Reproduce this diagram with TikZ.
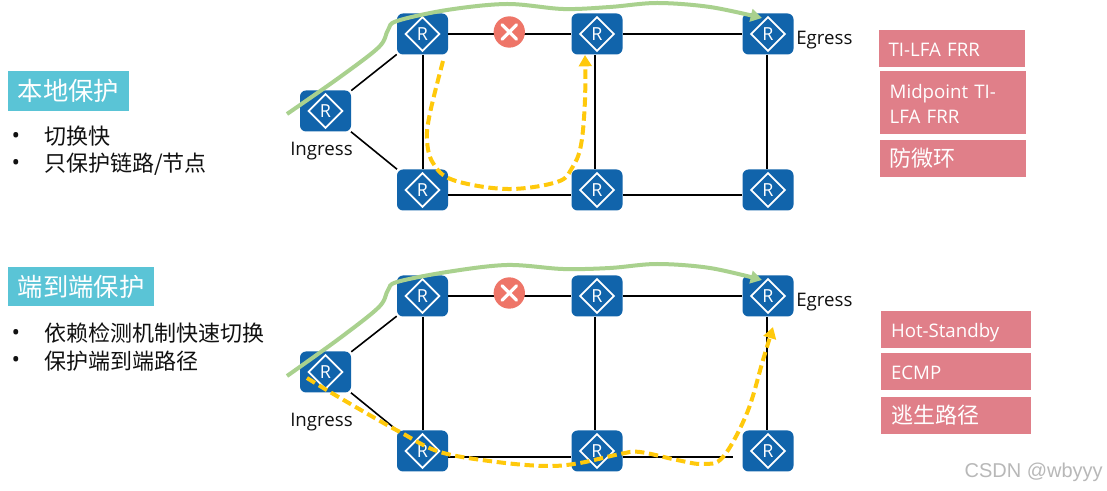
\documentclass[tikz,border=0pt]{standalone}
\usepackage{fontspec}
\setmainfont{Open Sans}
\newfontfamily\cjk{Noto Sans CJK SC}
\newfontfamily\wmfont{Liberation Sans}
\usetikzlibrary{arrows.meta}
\definecolor{routerblue}{HTML}{1164AB}
\definecolor{pinkbox}{HTML}{E07F89}
\definecolor{tealbox}{HTML}{5AC4D6}
\definecolor{greenpath}{HTML}{A9D18E}
\definecolor{yellowpath}{HTML}{FFC90B}
\definecolor{xred}{HTML}{EE7568}
\definecolor{txt}{HTML}{111111}
\newcommand{\lowered}[2]{\raisebox{-#1}[0pt][0pt]{#2}}
\tikzset{
  router/.style={fill=routerblue,rounded corners=4.5pt,minimum width=38.25pt,minimum height=30.75pt,inner sep=0pt,
    text=white,font=\fontsize{13.5}{14}\selectfont,
    path picture={\draw[white,line width=1.3pt,sharp corners,line join=miter] ([xshift=-12.6pt]path picture bounding box.center) -- ([yshift=12.6pt]path picture bounding box.center) -- ([xshift=12.6pt]path picture bounding box.center) -- ([yshift=-12.6pt]path picture bounding box.center) -- cycle;}},
  wire/.style={black,line width=1.2pt},
  greenline/.style={greenpath,line width=3pt,line cap=butt},
  yellowline/.style={yellowpath,line width=3pt,dash pattern=on 7pt off 3.5pt},
  greentip/.style={-{Triangle[length=8.5pt,width=9.5pt]}},
  yellowtip/.style={-{Triangle[length=8.5pt,width=9.5pt]}},
  xmark/.style={circle,fill=xred,minimum size=23.5pt,inner sep=0pt,
    path picture={\draw[white,line width=2.4pt,line cap=round] ([shift={(-5.4pt,-5.4pt)}]path picture bounding box.center) -- ([shift={(5.4pt,5.4pt)}]path picture bounding box.center) ([shift={(-5.4pt,5.4pt)}]path picture bounding box.center) -- ([shift={(5.4pt,-5.4pt)}]path picture bounding box.center);}},
  tealhead/.style={fill=tealbox,text=white,inner sep=0pt,minimum height=29.5pt,font=\cjk\fontsize{19}{22}\selectfont},
  pinkrow/.style={fill=pinkbox,text=white,inner xsep=7.5pt,inner ysep=0pt,align=left,text width=#1,font=\fontsize{14}{19}\selectfont},
  pinkrow/.default=95pt,
  plain/.style={text=txt,inner sep=0pt,anchor=west,font=\fontsize{14}{16}\selectfont},
  bulletitem/.style={text=txt,inner sep=0pt,anchor=west,font=\cjk\fontsize{16.5}{20}\selectfont},
  bulletdot/.style={text=txt,inner sep=0pt,font=\fontsize{17}{18}\selectfont}
}
\begin{document}
\begin{tikzpicture}[x=0.75pt,y=-0.75pt]
\useasboundingbox (0,0) rectangle (1107,491);
\fill[white] (0,0) rectangle (1107,491);

% upper network
\node[router] (ai) at (325.5,111) {R};
\node[router] (a1) at (422.5,34) {R};
\node[router] (a2) at (597,34) {R};
\node[router] (a3) at (768,34) {R};
\node[router] (a4) at (422.5,190) {R};
\node[router] (a5) at (597,190) {R};
\node[router] (a6) at (768,190) {R};
\draw[wire] (ai) -- (a1);
\draw[wire] (ai) -- (a4);
\draw[wire] (a1) -- (a2);
\draw[wire] (a2) -- (a3);
\draw[wire] ([xshift=0.4pt]a1.south) -- ([xshift=0.4pt]a4.north);
\draw[wire] ([xshift=-1.5pt]a2.south) -- ([xshift=-1.5pt]a5.north);
\draw[wire] ([xshift=-0.75pt]a3.south) -- ([xshift=-0.75pt]a6.north);
\draw[wire] ([yshift=-3.75pt]a4.east) -- ([yshift=-3.75pt]a5.west);
\draw[wire] ([yshift=-3.75pt]a5.east) -- ([yshift=-3.75pt]a6.west);
\node[xmark] (ax) at (509.3,32) {};
\node[plain] (ain) at (290,151) {Ingress};
\node[plain] (aeg) at (796,40) {Egress};
\draw[greenline,greentip] plot[smooth,tension=0.55] coordinates {(287,114) (340,77) (379,47) (388,30) (397,21) (447,10) (507,4) (563,9) (610,7) (657,3) (710,7) (762,18)};
\draw[yellowline,yellowtip] plot[smooth,tension=0.6] coordinates {(443,61) (430,113) (427,140) (433,163) (453,180) (507,189) (557,182) (572,168) (581,145) (585,100) (585,55)};

% lower network
\node[router] (bi) at (325.5,372) {R};
\node[router] (b1) at (422.5,296) {R};
\node[router] (b2) at (597,296) {R};
\node[router] (b3) at (768,296) {R};
\node[router] (b4) at (422.5,451) {R};
\node[router] (b5) at (597,451) {R};
\node[router] (b6) at (768,451) {R};
\coordinate (bend) at (733,457);
\draw[wire] (bi) -- (b1);
\draw[wire] (bi) -- (b4);
\draw[wire] (b1) -- (b2);
\draw[wire] (b2) -- (b3);
\draw[wire] ([xshift=0.4pt]b1.south) -- ([xshift=0.4pt]b4.north);
\draw[wire] ([xshift=-1.5pt]b2.south) -- ([xshift=-1.5pt]b5.north);
\draw[wire] ([xshift=-0.75pt]b3.south) -- ([xshift=-0.75pt]b6.north);
\draw[wire] ([yshift=-4.5pt]b4.east) -- ([yshift=-4.5pt]b5.west);
\draw[wire] ([yshift=-4.5pt]b5.east) -- (bend);
\node[xmark] (bx) at (509.3,293) {};
\node[plain] (bin) at (290,422) {Ingress};
\node[plain] (beg) at (796,302) {Egress};
\draw[greenline,greentip] plot[smooth,tension=0.55] coordinates {(287,376) (340,338) (379,307) (388,290) (397,282) (447,272) (507,265) (563,269) (610,268) (657,264) (710,268) (762,280)};
\draw[yellowline,yellowtip] plot[smooth,tension=0.6] coordinates {(307,378) (330,392) (373,417) (400,432) (440,452) (497,462) (547,466) (580,463) (620,454) (640,452) (677,460) (703,464) (723,457) (747,413) (763,360) (773,327)};

% left labels
\node[tealhead,minimum width=90.75pt] (h1) at (68.5,91) {本地保护};
\node[tealhead,minimum width=109.5pt] (h2) at (81,286.5) {端到端保护};
\node[bulletdot] (d1) at (16,138) {•};
\node[bulletdot] (d2) at (16,165) {•};
\node[bulletitem] (t1) at (44,136) {切换快};
\node[bulletitem] (t2) at (44,164) {只保护链路/节点};
\node[bulletdot] (d3) at (16,335) {•};
\node[bulletdot] (d4) at (16,362) {•};
\node[bulletitem] (t3) at (44,333) {依赖检测机制快速切换};
\node[bulletitem] (t4) at (44,361) {保护端到端路径};

% right boxes
\node[pinkrow,minimum height=27.5pt] (p1) at (952,48.5) {\lowered{5.95pt}{TI-LFA FRR}};
\node[pinkrow,minimum height=47.25pt] (p2) at (953,102.5) {\lowered{6.3pt}{Midpoint TI-}\\\lowered{6.3pt}{LFA FRR}};
\node[pinkrow,minimum height=27.75pt] (p3) at (953,158.5) {{\cjk\fontsize{16.5}{20}\selectfont 防微环}};
\node[pinkrow=97.5pt,minimum height=27.75pt] (q1) at (956,329.5) {\lowered{5.95pt}{Hot-Standby}};
\node[pinkrow=97.5pt,minimum height=27.75pt] (q2) at (956,371.5) {\lowered{5.95pt}{ECMP}};
\node[pinkrow=97.5pt,minimum height=27.75pt] (q3) at (956,415.5) {{\cjk\fontsize{16.5}{20}\selectfont 逃生路径}};

\node[text=black!28,inner sep=0pt,anchor=east,font=\wmfont\fontsize{15}{17}\selectfont] (wm) at (1103,472) {CSDN @wbyyy};
\end{tikzpicture}
\end{document}
